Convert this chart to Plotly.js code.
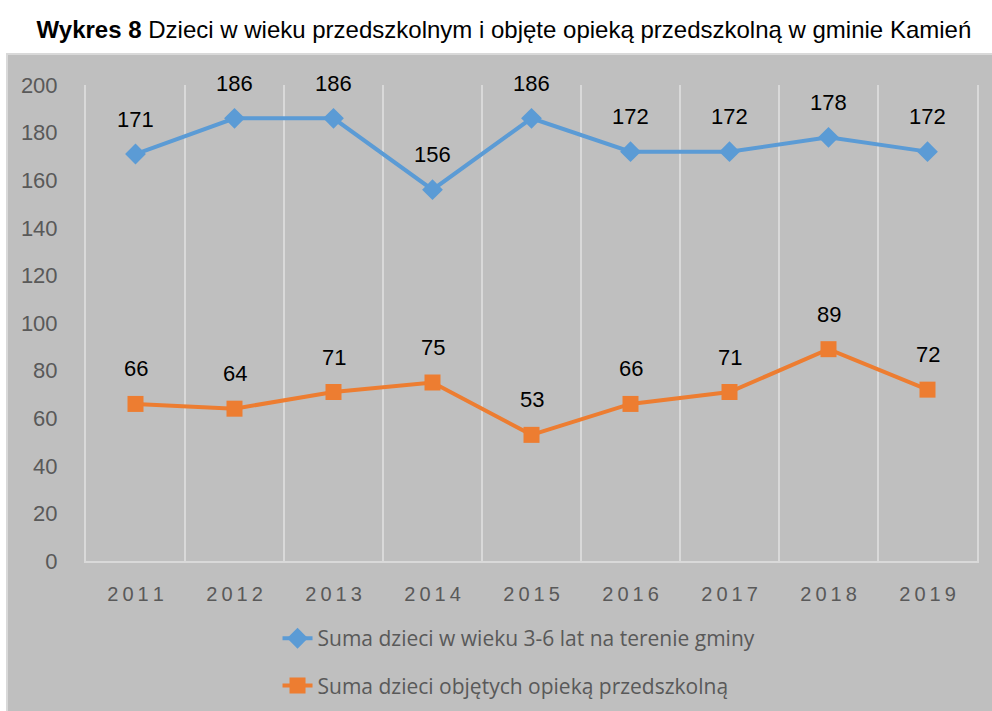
<!DOCTYPE html>
<html>
<head>
<meta charset="utf-8">
<script src="https://cdn.plot.ly/plotly-3.0.1.min.js"></script>
<style>html,body{margin:0;padding:0;background:#fff;}#chart{width:992px;height:711px;}</style>
</head>
<body>
<div id="chart"></div>
<script>
const years = ["2011","2012","2013","2014","2015","2016","2017","2018","2019"];
const childrenTotal = [171,186,186,156,186,172,172,178,172];
const childrenCare = [66,64,71,75,53,66,71,89,72];
const seriesNames = ["Suma dzieci w wieku 3-6 lat na terenie gminy","Suma dzieci objętych opieką przedszkolną"];
const yTicks = [0,20,40,60,80,100,120,140,160,180,200];

const spaced = years.map(y => y.split("").join("\u2009"));

const traces = [
  {x: years, y: childrenTotal, name: seriesNames[0], type: "scatter", mode: "lines+markers",
   line: {color: "#5b9bd5", width: 4}, marker: {symbol: "diamond", size: 16, color: "#5b9bd5"},
   legendgroup: "a", hoverinfo: "y"},
  {x: years, y: childrenCare, name: seriesNames[1], type: "scatter", mode: "lines+markers",
   line: {color: "#ed7d31", width: 4}, marker: {symbol: "square", size: 16, color: "#ed7d31"},
   legendgroup: "b", hoverinfo: "y"}
];

const annotations = [];
[childrenTotal, childrenCare].forEach(arr => {
  arr.forEach((v, i) => {
    annotations.push({x: i, y: v, xref: "x", yref: "y", text: String(v), showarrow: false,
      yshift: 35, font: {family: "Liberation Sans, Arial, sans-serif", size: 22, color: "#000"}});
  });
});

const layout = {
  width: 992, height: 711,
  margin: {l: 86, r: 15, t: 85, b: 150, autoexpand: false},
  paper_bgcolor: "#ffffff",
  plot_bgcolor: "rgba(0,0,0,0)",
  title: {text: "<b>Wykres 8</b> Dzieci w wieku przedszkolnym i objęte opieką przedszkolną w gminie Kamień",
    font: {family: "Liberation Sans, Arial, sans-serif", size: 24, color: "#000"},
    x: 0.508, xanchor: "center", y: 0.958, yanchor: "middle"},
  xaxis: {type: "category", tickvals: years, ticktext: spaced, tickson: "boundaries",
    showgrid: true, gridcolor: "#d9d9d9", gridwidth: 2,
    showline: true, linecolor: "#d9d9d9", linewidth: 2, ticks: "", range: [-0.5, 8.5],
    tickfont: {family: "Liberation Sans, Arial, sans-serif", size: 20, color: "#595959"},
    ticklabelstandoff: 14, zeroline: false, fixedrange: true},
  yaxis: {range: [0, 200], tickvals: yTicks, showgrid: false, zeroline: false,
    showline: true, mirror: true, linecolor: "#d9d9d9", linewidth: 2, ticks: "",
    tickfont: {family: "Liberation Sans, Arial, sans-serif", size: 22, color: "#595959"},
    ticklabelstandoff: 22, fixedrange: true},
  showlegend: true,
  legend: {orientation: "v", x: 0.486, xanchor: "center", y: -0.12, yanchor: "top",
    traceorder: "grouped", tracegroupgap: 17, bgcolor: "rgba(0,0,0,0)",
    font: {family: "Open Sans, Noto Sans, sans-serif", size: 21, color: "#595959"}},
  shapes: [{type: "rect", xref: "paper", yref: "paper", layer: "below",
    x0: (7 - 86) / 891, x1: (995 - 86) / 891, y0: (561 - 713) / 476, y1: (561 - 54) / 476,
    fillcolor: "#bfbfbf", line: {color: "#d9d9d9", width: 2}}],
  annotations: annotations
};

Plotly.newPlot("chart", traces, layout, {displayModeBar: false, staticPlot: true});
</script>
</body>
</html>
